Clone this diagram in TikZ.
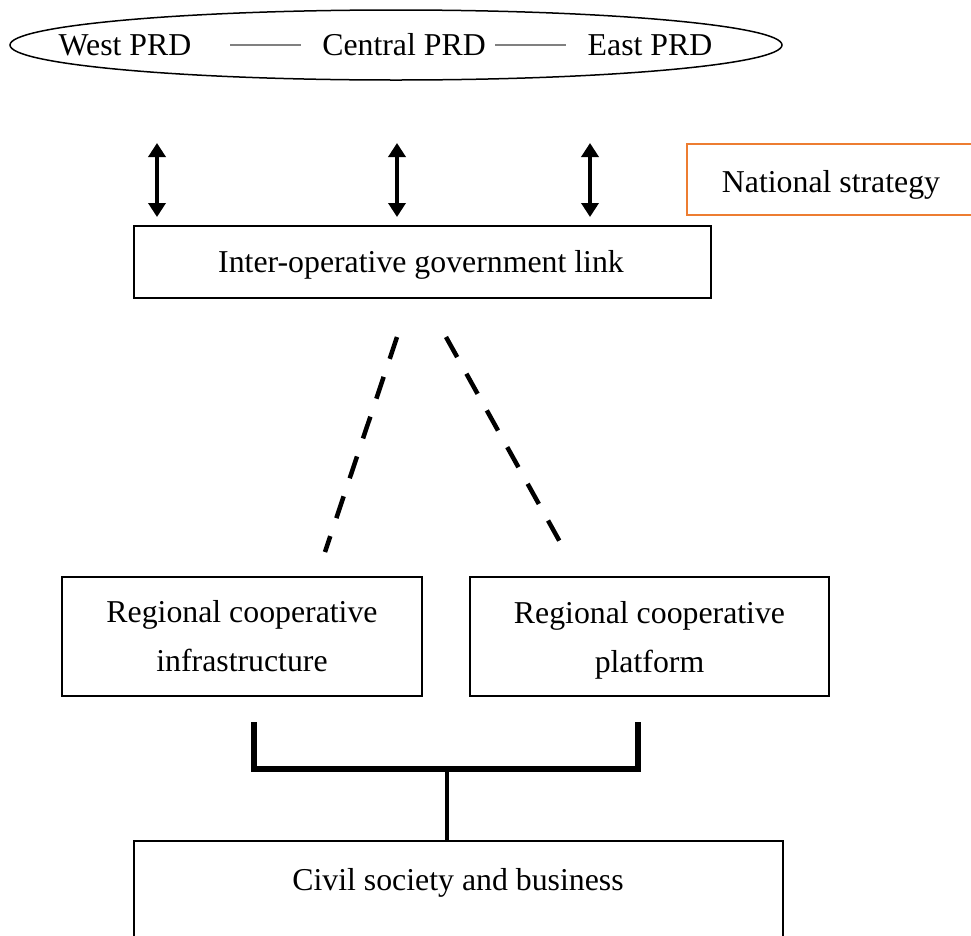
\documentclass[tikz,border=0pt]{standalone}
\usepackage{fontspec}
\setmainfont{Liberation Serif}
\usetikzlibrary{arrows.meta,shapes.geometric}
\definecolor{natorange}{RGB}{237,125,49}
\definecolor{linkgray}{RGB}{128,128,128}
\tikzset{
  box/.style={draw=black, line width=1.3pt, rectangle, inner sep=0pt, align=center},
  lbl/.style={font=\fontsize{31.8}{49}\selectfont, inner sep=0pt, align=center},
  updown/.style={line width=4.5pt, {Triangle[width=17pt,length=14pt]}-{Triangle[width=17pt,length=14pt]}},
  dashlink/.style={line width=4.5pt, dash pattern=on 23pt off 19pt},
  bracket/.style={line width=5.5pt, line cap=butt, line join=miter},
  grayline/.style={draw=linkgray, line width=2.5pt}
}
\begin{document}
\begin{tikzpicture}[x=1pt,y=-1pt]
\useasboundingbox (0,0) rectangle (971,935);
% top ellipse
\node[draw=black, line width=1.5pt, ellipse, minimum width=772pt, minimum height=70pt, inner sep=0pt] (prd) at (396,45) {};
\node[lbl] (west) at (125,45) {West PRD};
\node[lbl] (central) at (404,45) {Central PRD};
\node[lbl] (east) at (650,45) {East PRD};
\coordinate (g1a) at (230,45); \coordinate (g1b) at (301,45);
\coordinate (g2a) at (495,45); \coordinate (g2b) at (566,45);
\draw[grayline] (g1a) -- (g1b);
\draw[grayline] (g2a) -- (g2b);
% arrows
\coordinate (a1t) at (157,143); \coordinate (a1b) at (157,217);
\coordinate (a2t) at (397,143); \coordinate (a2b) at (397,217);
\coordinate (a3t) at (590,143); \coordinate (a3b) at (590,217);
\draw[updown] (a1t) -- (a1b);
\draw[updown] (a2t) -- (a2b);
\draw[updown] (a3t) -- (a3b);
% national strategy
\draw[draw=natorange, line width=1.8pt] (687,144) rectangle (975,215);
\node[lbl] (nat) at (831,185) {National strategy};
% inter-operative
\node[box, minimum width=577pt, minimum height=72pt] (gov) at (422.5,262) {};
\node[lbl] (govt) at (421,265) {Inter-operative government link};
% dashed lines
\coordinate (d1a) at (397,337); \coordinate (d1b) at (325,552);
\coordinate (d2a) at (446,337); \coordinate (d2b) at (560,542);
\draw[dashlink] (d1a) -- (d1b);
\draw[dashlink] (d2a) -- (d2b);
% regional boxes
\node[box, minimum width=360pt, minimum height=119pt] (infra) at (242,636.5) {};
\node[lbl] (infrat) at (242,636.5) {Regional cooperative\\infrastructure};
\node[box, minimum width=359pt, minimum height=119pt] (plat) at (649.5,636.5) {};
\node[lbl] (platt) at (649.5,640.5) {Regional cooperative\\platform};
% bracket
\coordinate (bl) at (254,722); \coordinate (br) at (638,722);
\coordinate (bm) at (447,769);
\draw[bracket] (bl) |- (br |- bm) -- (br);
% civil society
\draw[line width=1.3pt] (134,945) -- (134,841) -- (783,841) -- (783,945);
\coordinate (civtop) at (447,841);
\draw[line width=4.5pt] (bm) -- (civtop);
\node[lbl] (civ) at (458,883) {Civil society and business};
\end{tikzpicture}
\end{document}
